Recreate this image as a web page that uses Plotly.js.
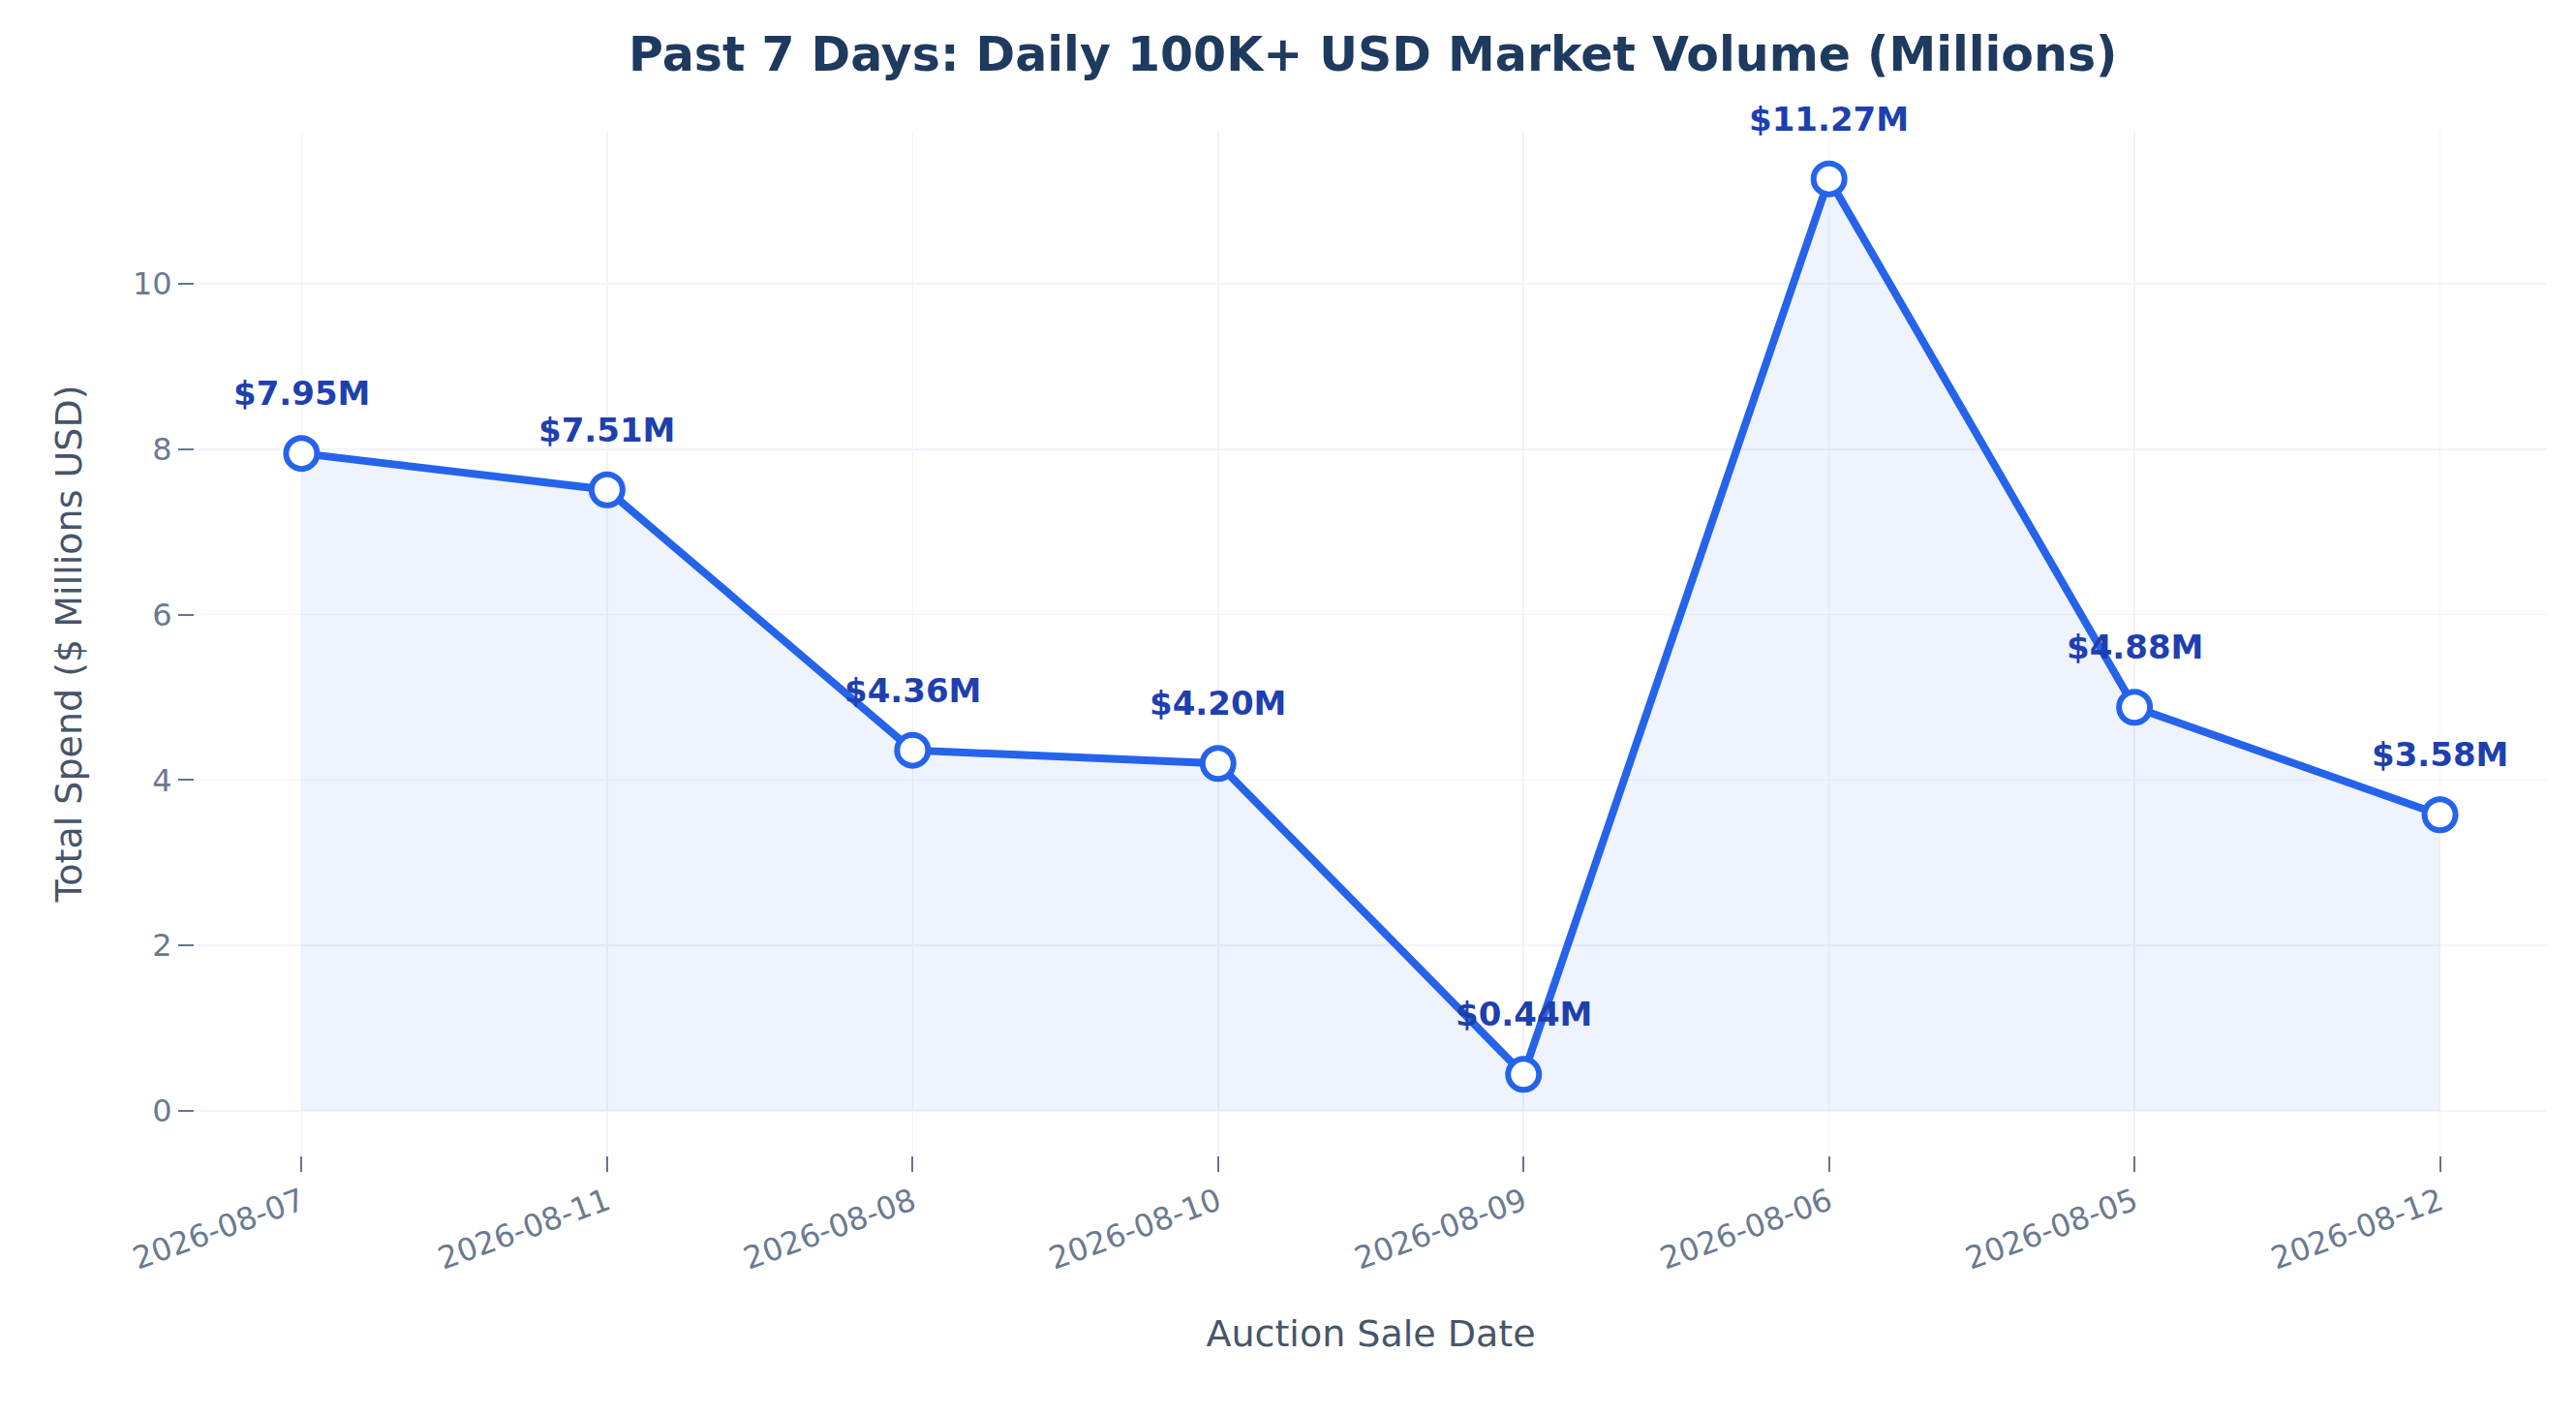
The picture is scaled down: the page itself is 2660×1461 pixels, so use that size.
<!DOCTYPE html>
<html>
<head>
<script src="https://cdn.plot.ly/plotly-3.0.1.min.js"></script>
<style>html,body{margin:0;padding:0;background:#fff}</style>
</head>
<body>
<div id="plot" style="width:2660px;height:1461px"></div>
<script>
const dates = ["2026-08-07", "2026-08-11", "2026-08-08", "2026-08-10", "2026-08-09", "2026-08-06", "2026-08-05", "2026-08-12"];
const volumes = [7.95, 7.51, 4.36, 4.20, 0.44, 11.27, 4.88, 3.58];
const labels = volumes.map(v => "$" + v.toFixed(2) + "M");

const font = "DejaVu Sans, sans-serif";

const traces = [
  {
    x: dates,
    y: volumes,
    type: "scatter",
    mode: "lines+markers",
    fill: "tozeroy",
    fillcolor: "rgba(37,99,235,0.08)",
    line: { color: "#2563eb", width: 8 },
    marker: { size: 32, color: "#ffffff", line: { color: "#2563eb", width: 6 } },
    hoverinfo: "skip",
  },
];

const annotations = dates.map((d, i) => ({
  x: d,
  y: volumes[i],
  text: "<b>" + labels[i] + "</b>",
  showarrow: false,
  yshift: 62,
  font: { family: font, size: 34, color: "#1e40af" },
}));

const layout = {
  width: 2660,
  height: 1461,
  margin: { l: 201, r: 30, t: 136, b: 268 },
  paper_bgcolor: "#ffffff",
  plot_bgcolor: "#ffffff",
  showlegend: false,
  title: {
    text: "<b>Past 7 Days: Daily 100K+ USD Market Volume (Millions)</b>",
    font: { family: font, size: 49, color: "#1e3a5f" },
    x: 0.533,
    xanchor: "center",
    y: 0.962,
    yanchor: "middle",
  },
  xaxis: {
    type: "category",
    range: [-0.35, 7.35],
    tickangle: -20,
    ticks: "outside",
    ticklen: 16,
    tickwidth: 2,
    tickcolor: "#64748b",
    tickfont: { family: font, size: 32, color: "#6b7a90" },
    showgrid: true,
    gridcolor: "#f1f4f8",
    gridwidth: 1.5,
    zeroline: false,
    showline: false,
    title: { text: "Auction Sale Date", font: { family: font, size: 38, color: "#475569" }, standoff: 45 },
  },
  yaxis: {
    range: [-0.54, 11.84],
    dtick: 2,
    ticks: "outside",
    ticklen: 16,
    tickwidth: 2,
    tickcolor: "#64748b",
    tickfont: { family: font, size: 32, color: "#6b7a90" },
    showgrid: true,
    gridcolor: "#f1f4f8",
    gridwidth: 1.5,
    zeroline: false,
    showline: false,
    title: { text: "Total Spend ($ Millions USD)", font: { family: font, size: 38, color: "#475569" }, standoff: 40 },
  },
  annotations: annotations,
};

Plotly.newPlot(document.querySelector("#plot"), traces, layout, { displayModeBar: false, staticPlot: true });
</script>
</body>
</html>
